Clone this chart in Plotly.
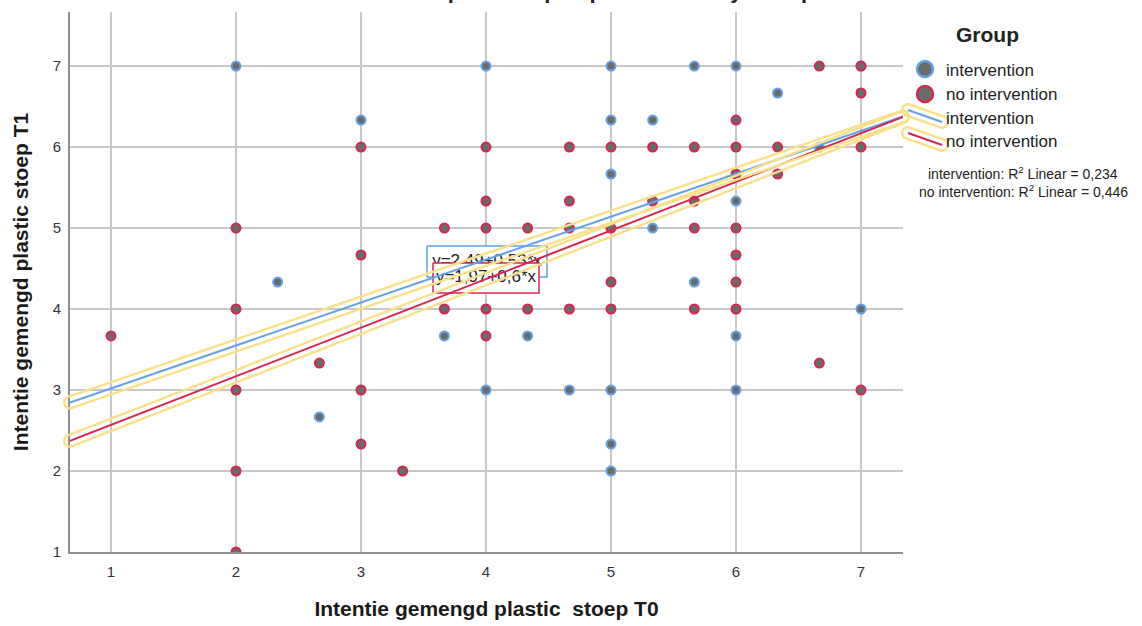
import math
import plotly.graph_objects as go

# ---------------- data ----------------
int_x = [2, 4, 5, 5.667, 6, 7,
         6.333,
         3, 5, 5.333,
         6.667,
         5,
         6,
         5.333,
         2.333, 5.667,
         7,
         3.667, 4.333, 6,
         4, 4.667, 5, 6,
         2.667,
         5,
         5]
int_y = [7, 7, 7, 7, 7, 7,
         6.667,
         6.333, 6.333, 6.333,
         6,
         5.667,
         5.333,
         5,
         4.333, 4.333,
         4,
         3.667, 3.667, 3.667,
         3, 3, 3, 3,
         2.667,
         2.333,
         2]

no_x = [6.667, 7,
        7,
        6,
        3, 4, 4.667, 5, 5.333, 5.667, 6, 6.333, 7,
        6, 6.333,
        4, 4.667, 5.333, 5.667,
        2, 3.667, 4, 4.333, 4.667, 5, 5.667, 6,
        3, 6,
        5, 6,
        2, 3.667, 4, 4.333, 4.667, 5, 5.667, 6,
        1, 4,
        2.667, 6.667,
        2, 3, 7,
        3,
        2, 3.333,
        2]
no_y = [7, 7,
        6.667,
        6.333,
        6, 6, 6, 6, 6, 6, 6, 6, 6,
        5.667, 5.667,
        5.333, 5.333, 5.333, 5.333,
        5, 5, 5, 5, 5, 5, 5, 5,
        4.667, 4.667,
        4.333, 4.333,
        4, 4, 4, 4, 4, 4, 4, 4,
        3.667, 3.667,
        3.333, 3.333,
        3, 3, 3,
        2.333,
        2, 2,
        1]

groups = ["intervention", "no intervention"]
fit_intercepts = [2.49, 1.97]
fit_slopes = [0.53, 0.60]
fit_labels = ["y=2,49+0,53*x", "y=1,97+0,6*x"]
r2_values = ["0,234", "0,446"]
x_ticks = [1, 2, 3, 4, 5, 6, 7]
y_ticks = [1, 2, 3, 4, 5, 6, 7]

# ---------------- layout / style ----------------
W, H = 1142, 626
ML, MR, MT, MB = 70, 239, 12, 74
PW, PH = W - ML - MR, H - MT - MB
X_RANGE = [0.672, 7.336]
Y_RANGE = [1.0, 7.667]
BLUE = "#63a1e8"
RED = "#d7264f"
GRAY = "#6b6b6b"
HALO = "#fbe08a"
FONT = "Liberation Sans, Arial, sans-serif"

def d2px(x, y):
    px = ML + (x - X_RANGE[0]) / (X_RANGE[1] - X_RANGE[0]) * PW
    py = MT + PH - (y - Y_RANGE[0]) / (Y_RANGE[1] - Y_RANGE[0]) * PH
    return px, py

def px2paper(px, py):
    return (px - ML) / PW, (MT + PH - py) / PH

def px2data(px, py):
    x = X_RANGE[0] + (px - ML) / PW * (X_RANGE[1] - X_RANGE[0])
    y = Y_RANGE[0] + (MT + PH - py) / PH * (Y_RANGE[1] - Y_RANGE[0])
    return x, y

def stadium_path(p0, p1, r, n=14):
    dx, dy = p1[0] - p0[0], p1[1] - p0[1]
    L = math.hypot(dx, dy)
    ux, uy = dx / L, dy / L
    nx, ny = -uy, ux
    a_n = math.atan2(ny, nx)
    pts = []
    for i in range(n + 1):
        a = a_n - math.pi * i / n
        pts.append((p1[0] + r * math.cos(a), p1[1] + r * math.sin(a)))
    for i in range(n + 1):
        a = a_n - math.pi - math.pi * i / n
        pts.append((p0[0] + r * math.cos(a), p0[1] + r * math.sin(a)))
    path = ""
    for k, (px, py) in enumerate(pts):
        X, Y = px2paper(px, py)
        path += ("M" if k == 0 else "L") + f"{X:.5f},{Y:.5f} "
    return path + "Z"

fig = go.Figure()

# points
fig.add_trace(go.Scatter(x=int_x, y=int_y, mode="markers", showlegend=False,
                         marker=dict(size=9, color=GRAY, line=dict(color=BLUE, width=2))))
fig.add_trace(go.Scatter(x=no_x, y=no_y, mode="markers", showlegend=False,
                         marker=dict(size=9, color=GRAY, line=dict(color=RED, width=2))))

# equation boxes (pixel boxes) + labels
boxes_px = [(427, 246, 547, 277), (433, 263, 539, 293)]
box_cols = [BLUE, RED]
for (x0p, y0p, x1p, y1p), col, lab in zip(boxes_px, box_cols, fit_labels):
    ax0, ay0 = px2data(x0p, y0p)
    ax1, ay1 = px2data(x1p, y1p)
    fig.add_trace(go.Scatter(x=[ax0, ax1, ax1, ax0, ax0], y=[ay0, ay0, ay1, ay1, ay0],
                             mode="lines", fill="toself", fillcolor="white",
                             line=dict(color=col, width=1.5), showlegend=False, hoverinfo="skip"))
    fig.add_trace(go.Scatter(x=[(ax0 + ax1) / 2], y=[(ay0 + ay1) / 2], mode="text",
                             text=[lab], textposition="middle center",
                             textfont=dict(family=FONT, size=17, color="#222"),
                             showlegend=False, hoverinfo="skip"))

# fit lines
cols = [BLUE, RED]
shapes = []
for a, b, col in zip(fit_intercepts, fit_slopes, cols):
    xs = [X_RANGE[0], X_RANGE[1]]
    ys = [a + b * v for v in xs]
    fig.add_trace(go.Scatter(x=xs, y=ys, mode="lines", line=dict(color=col, width=2),
                             showlegend=False, hoverinfo="skip"))
    p0 = d2px(xs[0], ys[0])
    p1 = d2px(xs[1], ys[1])
    shapes.append(dict(type="path", xref="paper", yref="paper", path=stadium_path(p0, p1, 5.8),
                       line=dict(color=HALO, width=2.4), layer="above"))

# legend: markers
leg_marker_y = [69, 94]
for yy, col in zip(leg_marker_y, cols):
    xa, ya = px2paper(925, yy)
    shapes.append(dict(type="circle", xref="paper", yref="paper", xsizemode="pixel", ysizemode="pixel",
                       xanchor=xa, yanchor=ya, x0=-8, x1=8, y0=-8, y1=8,
                       fillcolor=GRAY, line=dict(color=col, width=2.5)))
# legend: lines
leg_lines = [((908, 110), (942, 122)), ((908, 133), (942, 145))]
for (p0, p1), col in zip(leg_lines, cols):
    shapes.append(dict(type="path", xref="paper", yref="paper", path=stadium_path(p0, p1, 5.8),
                       line=dict(color=HALO, width=2.4)))
    a0 = px2paper(*p0)
    a1 = px2paper(*p1)
    shapes.append(dict(type="line", xref="paper", yref="paper", x0=a0[0], y0=a0[1], x1=a1[0], y1=a1[1],
                       line=dict(color=col, width=2)))

annotations = []
def ann(text, px, py, size, xanchor="left", bold=False, color="#222"):
    X, Y = px2paper(px, py)
    annotations.append(dict(text=text, x=X, y=Y, xref="paper", yref="paper", xanchor=xanchor,
                            yanchor="middle", showarrow=False,
                            font=dict(family=FONT, size=size, color=color,
                                      weight="bold" if bold else "normal")))

ann("Group", 987, 34, 21, xanchor="center", bold=True)
for g, yy in zip(groups, [70, 95]):
    ann(g, 944, yy, 17)
for g, yy in zip(groups, [118, 142]):
    ann(g, 944, yy, 17)
for g, r2, yy in zip(groups, r2_values, [173, 191]):
    ann(f"{g}: R<sup>2</sup> Linear = {r2}", 1023, yy, 14, xanchor="center")
ann("doel op de stoep te plaatsen T1 by Group", 599, -9, 22, xanchor="center", bold=True)

fig.update_layout(
    width=W, height=H, margin=dict(l=ML, r=MR, t=MT, b=MB),
    paper_bgcolor="white", plot_bgcolor="white",
    font=dict(family=FONT, color="#333"),
    showlegend=False, shapes=shapes, annotations=annotations,
    xaxis=dict(range=X_RANGE, tickvals=x_ticks, showgrid=True, gridcolor="#c8c8c8", gridwidth=1.5,
               zeroline=False, showline=True, linecolor="#8f8f8f", linewidth=2, automargin=False,
               tickfont=dict(size=15, color="#333"), ticks="", ticklabelstandoff=5,
               title=dict(text="Intentie gemengd plastic \u00a0stoep T0", standoff=22,
                          font=dict(size=21, color="#1a1a1a", weight="bold"))),
    yaxis=dict(range=Y_RANGE, tickvals=y_ticks, showgrid=True, gridcolor="#c8c8c8", gridwidth=1.5,
               zeroline=False, showline=True, linecolor="#8f8f8f", linewidth=2, automargin=False,
               tickfont=dict(size=15, color="#333"), ticks="", ticklabelstandoff=4,
               title=dict(text="Intentie gemengd plastic stoep T1", standoff=18,
                          font=dict(size=21, color="#1a1a1a", weight="bold"))),
)

fig.write_html("out.html")
